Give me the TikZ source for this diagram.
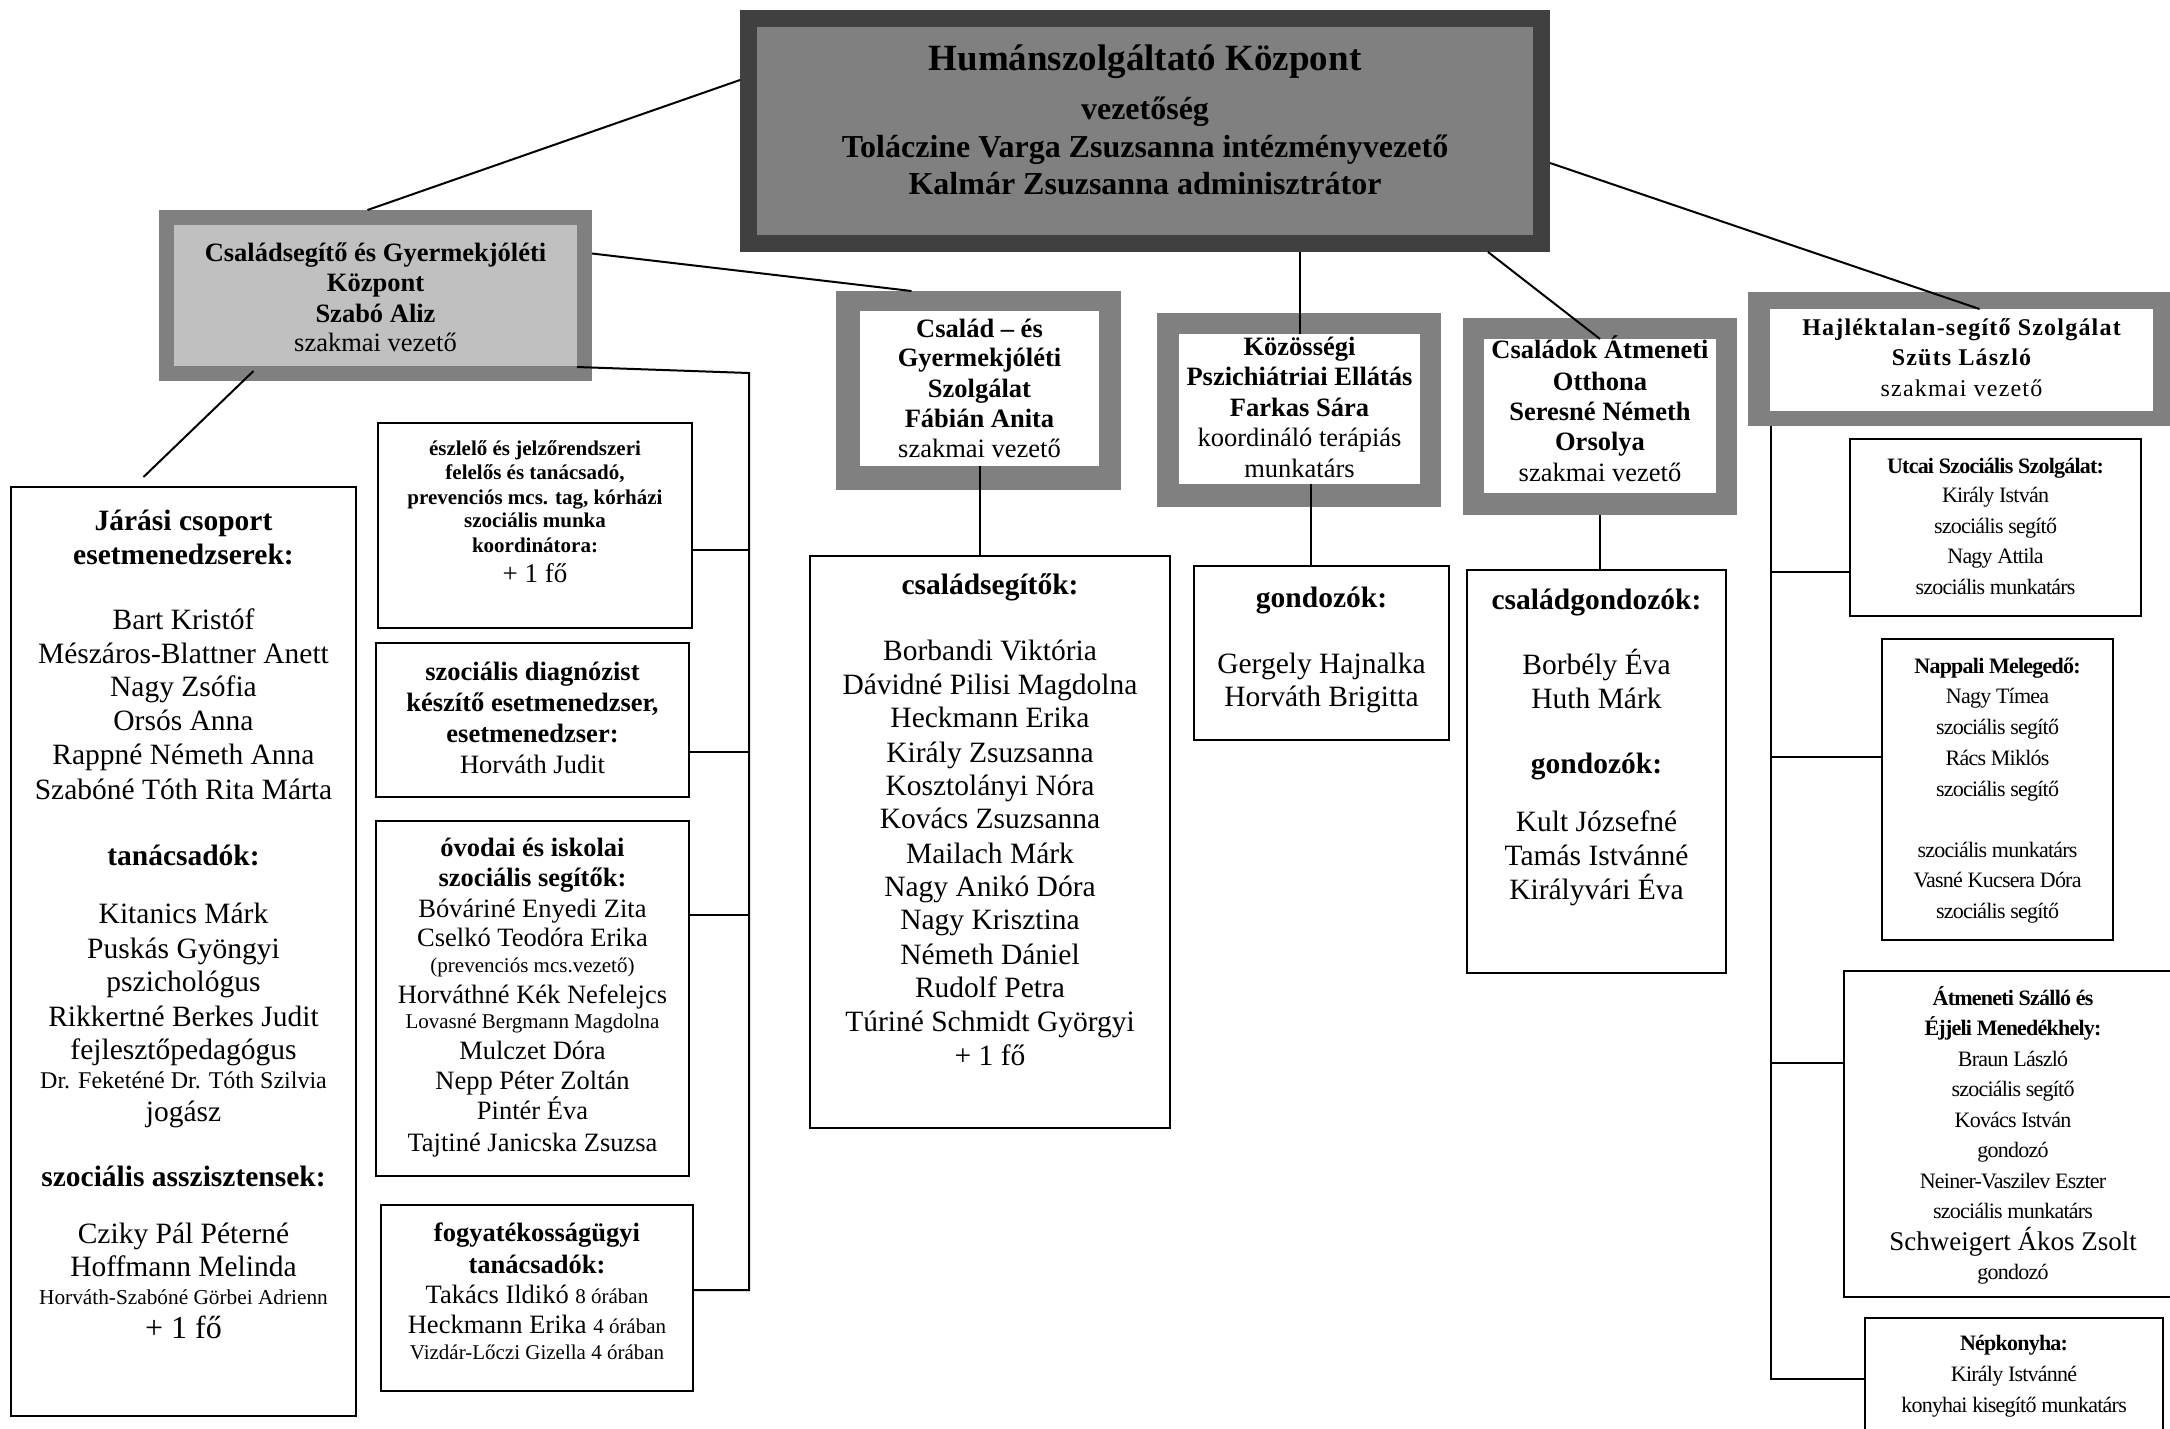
\documentclass[tikz,border=0pt]{standalone}
\usepackage{fontspec}
\setmainfont{Liberation Serif}
\newfontfamily\condfont[LetterSpace=-3.5]{Liberation Serif}
\newfontfamily\widefont[LetterSpace=5]{Liberation Serif}
\usetikzlibrary{calc}
\newcommand\szL{\fontsize{29.5pt}{34pt}\selectfont}
\newcommand\szM{\fontsize{26.5pt}{30pt}\selectfont}
\newcommand\szS{\fontsize{21pt}{24pt}\selectfont}
\newcommand\szC{\fontsize{22pt}{30pt}\selectfont}
\definecolor{bdark}{HTML}{404040}
\definecolor{bmid}{HTML}{808080}
\definecolor{blight}{HTML}{C0C0C0}
\begin{document}
\begin{tikzpicture}[x=1pt,y=-1pt,
  plainbox/.style={draw=black, line width=2pt, fill=white, inner sep=0pt, outer sep=0pt},
  frame/.style={fill=#1, draw=none, inner sep=0pt, outer sep=0pt},
  ln/.style={anchor=base, inner sep=0pt, outer sep=0pt},
  conn/.style={draw=black, line width=2pt}]
\path[fill=white, use as bounding box] (0,0) rectangle (2170,1428);

% ---------- framed leader boxes ----------
\node[frame=bdark, minimum width=810pt, minimum height=242pt] (top) at (1145,131) {};
\node[frame=bmid, minimum width=776pt, minimum height=208pt] (topIn) at (1145,131) {};
\node[frame=bmid, minimum width=433pt, minimum height=171pt] (csgyk) at (375.5,295.5) {};
\node[frame=blight, minimum width=403pt, minimum height=141pt] (csgykIn) at (375.5,295.5) {};
\node[frame=bmid, minimum width=285pt, minimum height=199pt] (csalad) at (978.5,390.5) {};
\node[frame=white, minimum width=239pt, minimum height=155pt] (csaladIn) at (979.5,388.5) {};
\node[frame=bmid, minimum width=284pt, minimum height=194pt] (koz) at (1299,410) {};
\node[frame=white, minimum width=241pt, minimum height=150pt] (kozIn) at (1299.5,409) {};
\node[frame=bmid, minimum width=274pt, minimum height=197pt] (cao) at (1600,416.5) {};
\node[frame=white, minimum width=232pt, minimum height=154pt] (caoIn) at (1600,416) {};
\node[frame=bmid, minimum width=427pt, minimum height=134pt] (haj) at (1961.5,359) {};
\node[frame=white, minimum width=383pt, minimum height=102pt] (hajIn) at (1961.5,360) {};

% ---------- plain boxes ----------
\node[plainbox, minimum width=345pt, minimum height=929pt] (jaras) at (183.5,951.5) {};
\node[plainbox, minimum width=314pt, minimum height=205pt] (A) at (535,525.5) {};
\node[plainbox, minimum width=313pt, minimum height=154pt] (B) at (532.5,720) {};
\node[plainbox, minimum width=313pt, minimum height=355pt] (C) at (532.5,998.5) {};
\node[plainbox, minimum width=312pt, minimum height=186pt] (D) at (537,1298) {};
\node[plainbox, minimum width=360pt, minimum height=572pt] (csegit) at (990,842) {};
\node[plainbox, minimum width=255pt, minimum height=174pt] (gondK) at (1321.5,653) {};
\node[plainbox, minimum width=259pt, minimum height=403pt] (cgond) at (1596.5,771.5) {};
\node[plainbox, minimum width=291pt, minimum height=177pt] (utcai) at (1995.5,527.5) {};
\node[plainbox, minimum width=231pt, minimum height=301pt] (napp) at (1997.5,789.5) {};
\node[plainbox, minimum width=331pt, minimum height=326pt] (atm) at (2009.5,1134) {};
\node[plainbox, minimum width=298pt, minimum height=122pt] (nep) at (2014,1379) {};

% ---------- connectors ----------
\draw[conn] ([yshift=51pt]top.west) -- ([xshift=-8pt]csgyk.north);
\draw[conn] ([yshift=42pt]csgyk.east) -- ([xshift=-67pt]csalad.north);
\draw[conn] ([xshift=-122pt,yshift=10pt]csgyk.south) -- ([xshift=-40pt,yshift=10pt]jaras.north);
\coordinate (bus) at (749,373);
\path ([xshift=-15pt,yshift=14pt]csgyk.south east) coordinate (cs1);
\path ([yshift=-24pt]A.east) coordinate (a1);
\path ([yshift=-32pt]B.east) coordinate (b1);
\path ([yshift=83.5pt]C.east) coordinate (c1);
\path ([yshift=8pt]D.east) coordinate (d1);
\draw[conn] (cs1) -- (bus) -- (bus |- d1) -- (d1);
\draw[conn] (a1) -- (a1 -| bus);
\draw[conn] (b1) -- (b1 -| bus);
\draw[conn] (c1) -- (c1 -| bus);
\draw[conn] (csaladIn.south) -- (csaladIn.south |- csegit.north);
\draw[conn] (kozIn.north |- top.south) -- (kozIn.north);
\path ([xshift=11pt]kozIn.south) coordinate (k1);
\draw[conn] (k1) -- (k1 |- gondK.north);
\draw[conn] ([xshift=343pt]top.south) -- (caoIn.north);
\draw[conn] (cao.south) -- (cao.south |- cgond.north);
\draw[conn] ([yshift=-32pt]top.east) -- ([xshift=18pt]hajIn.north);
\path ([xshift=23pt]haj.south west) coordinate (hb);
\path ([yshift=-44.5pt]utcai.west) coordinate (u1);
\path ([yshift=32.5pt]napp.west) coordinate (n1);
\path ([yshift=71pt]atm.west) coordinate (t1);
\draw[conn] (hb) |- (nep.west);
\draw[conn] (u1 -| hb) -- (u1);
\draw[conn] (n1 -| hb) -- (n1);
\draw[conn] (t1 -| hb) -- (t1);

% ---------- texts ----------
\node[ln, font=\fontsize{37pt}{42pt}\selectfont\bfseries] (top-t) at (1145,70) {Humánszolgáltató Központ};
\foreach \yy/\lbl [count=\i] in {119/{vezetőség},157/{Toláczine Varga Zsuzsanna intézményvezető},194/{Kalmár Zsuzsanna adminisztrátor}}
  \node[ln, font=\fontsize{32pt}{37pt}\selectfont\bfseries] (top-l\i) at (1145,\yy) {\lbl};

\foreach \yy/\lbl [count=\i] in {261/{Családsegítő és Gyermekjóléti},291/{Központ},322/{Szabó Aliz},351/{\mdseries szakmai vezető}}
  \node[ln, font=\szM\bfseries] (csgyk-l\i) at (375.5,\yy) {\lbl};

\foreach \yy/\lbl [count=\i] in {337/{Család – és},366/{Gyermekjóléti},397/{Szolgálat},427/{Fábián Anita},457/{\mdseries szakmai vezető}}
  \node[ln, font=\szM\bfseries] (csalad-l\i) at (979.5,\yy) {\lbl};

\foreach \yy/\lbl [count=\i] in {355/{Közösségi},385/{Pszichiátriai Ellátás},416/{Farkas Sára},446/{\mdseries koordináló terápiás},477/{\mdseries munkatárs}}
  \node[ln, font=\szM\bfseries] (koz-l\i) at (1299.5,\yy) {\lbl};

\foreach \yy/\lbl [count=\i] in {358/{Családok Átmeneti},390/{Otthona},420/{Seresné Németh},450/{Orsolya},481/{\mdseries szakmai vezető}}
  \node[ln, font=\szM\bfseries] (cao-l\i) at (1600,\yy) {\lbl};

\foreach \yy/\lbl [count=\i] in {335/{\bfseries Hajléktalan-segítő Szolgálat},365/{\bfseries Szüts László},396/{szakmai vezető}}
  \node[ln, font=\widefont\fontsize{24pt}{30pt}\selectfont] (haj-l\i) at (1961.5,\yy) {\lbl};

\foreach \yy/\lbl [count=\i] in {530/{\bfseries Járási csoport},564/{\bfseries esetmenedzserek:},629/{Bart Kristóf},663/{Mészáros-Blattner Anett},696/{Nagy Zsófia},730/{Orsós Anna},764/{Rappné Németh Anna},799/{Szabóné Tóth Rita Márta},865/{\bfseries tanácsadók:},923/{Kitanics Márk},958/{Puskás Gyöngyi},991/{pszichológus},1026/{Rikkertné Berkes Judit},1059/{fejlesztőpedagógus},1088/{\fontsize{24pt}{28pt}\selectfont Dr. Feketéné Dr. Tóth Szilvia},1121/{jogász},1186/{\bfseries szociális asszisztensek:},1243/{Cziky Pál Péterné},1276/{Hoffmann Melinda},1304/{\fontsize{21.3pt}{24pt}\selectfont Horváth-Szabóné Görbei Adrienn},1338/{\fontsize{32pt}{36pt}\selectfont + 1 fő}}
  \node[ln, font=\szL] (jaras-l\i) at (183.5,\yy) {\lbl};

\foreach \yy/\lbl [count=\i] in {455/{észlelő és jelzőrendszeri},479/{felelős és tanácsadó,},504/{prevenciós mcs. tag, kórházi},527/{szociális munka},552/{koordinátora:},582/{\mdseries\fontsize{27pt}{30pt}\selectfont + 1 fő}}
  \node[ln, font=\szS\bfseries] (A-l\i) at (535,\yy) {\lbl};

\foreach \yy/\lbl [count=\i] in {680/{\bfseries szociális diagnózist},711/{\bfseries készítő esetmenedzser,},742/{\bfseries esetmenedzser:},773/{Horváth Judit}}
  \node[ln, font=\szM] (B-l\i) at (532.5,\yy) {\lbl};

\foreach \yy/\lbl [count=\i] in {856/{\bfseries óvodai és iskolai},886/{\bfseries szociális segítők:},917/{Bóváriné Enyedi Zita},946/{Cselkó Teodóra Erika},972/{\szS (prevenciós mcs.vezető)},1003/{Horváthné Kék Nefelejcs},1028/{\szS Lovasné Bergmann Magdolna},1059/{Mulczet Dóra},1089/{Nepp Péter Zoltán},1119/{Pintér Éva},1151/{Tajtiné Janicska Zsuzsa}}
  \node[ln, font=\szM] (C-l\i) at (532.5,\yy) {\lbl};

\foreach \yy/\lbl [count=\i] in {1241/{\bfseries fogyatékosságügyi},1273/{\bfseries tanácsadók:},1303/{Takács Ildikó {\szS 8 órában}},1333/{Heckmann Erika {\szS 4 órában}},1359/{\szS Vizdár-Lőczi Gizella 4 órában}}
  \node[ln, font=\szM] (D-l\i) at (537,\yy) {\lbl};

\foreach \yy/\lbl [count=\i] in {594/{\bfseries családsegítők:},660/{Borbandi Viktória},694/{Dávidné Pilisi Magdolna},727/{Heckmann Erika},762/{Király Zsuzsanna},795/{Kosztolányi Nóra},828/{Kovács Zsuzsanna},863/{Mailach Márk},896/{Nagy Anikó Dóra},929/{Nagy Krisztina},964/{Németh Dániel},997/{Rudolf Petra},1031/{Túriné Schmidt Györgyi},1065/{+ 1 fő}}
  \node[ln, font=\szL] (csegit-l\i) at (990,\yy) {\lbl};

\foreach \yy/\lbl [count=\i] in {607/{\bfseries gondozók:},673/{Gergely Hajnalka},706/{Horváth Brigitta}}
  \node[ln, font=\szL] (gondK-l\i) at (1321.5,\yy) {\lbl};

\foreach \yy/\lbl [count=\i] in {609/{\bfseries családgondozók:},674/{Borbély Éva},708/{Huth Márk},773/{\bfseries gondozók:},831/{Kult Józsefné},865/{Tamás Istvánné},899/{Királyvári Éva}}
  \node[ln, font=\szL] (cgond-l\i) at (1596.5,\yy) {\lbl};

\foreach \yy/\lbl [count=\i] in {473/{\bfseries Utcai Szociális Szolgálat:},502/{Király István},533/{szociális segítő},563/{Nagy Attila},594/{szociális munkatárs}}
  \node[ln, font=\condfont\szC] (utcai-l\i) at (1995.5,\yy) {\lbl};

\foreach \yy/\lbl [count=\i] in {673/{\bfseries Nappali Melegedő:},703/{Nagy Tímea},734/{szociális segítő},765/{Rács Miklós},796/{szociális segítő},857/{szociális munkatárs},887/{Vasné Kucsera Dóra},918/{szociális segítő}}
  \node[ln, font=\condfont\szC] (napp-l\i) at (1997.5,\yy) {\lbl};

\foreach \yy/\lbl [count=\i] in {1005/{\bfseries Átmeneti Szálló és},1035/{\bfseries Éjjeli Menedékhely:},1066/{Braun László},1096/{szociális segítő},1127/{Kovács István},1157/{gondozó},1188/{Neiner-Vaszilev Eszter},1218/{szociális munkatárs},1250/{\rmfamily\fontsize{27pt}{30pt}\selectfont Schweigert Ákos Zsolt},1279/{gondozó}}
  \node[ln, font=\condfont\szC] (atm-l\i) at (2013,\yy) {\lbl};

\foreach \yy/\lbl [count=\i] in {1350/{\bfseries Népkonyha:},1381/{Király Istvánné},1412/{konyhai kisegítő munkatárs}}
  \node[ln, font=\condfont\szC] (nep-l\i) at (2014,\yy) {\lbl};
\end{tikzpicture}
\end{document}
